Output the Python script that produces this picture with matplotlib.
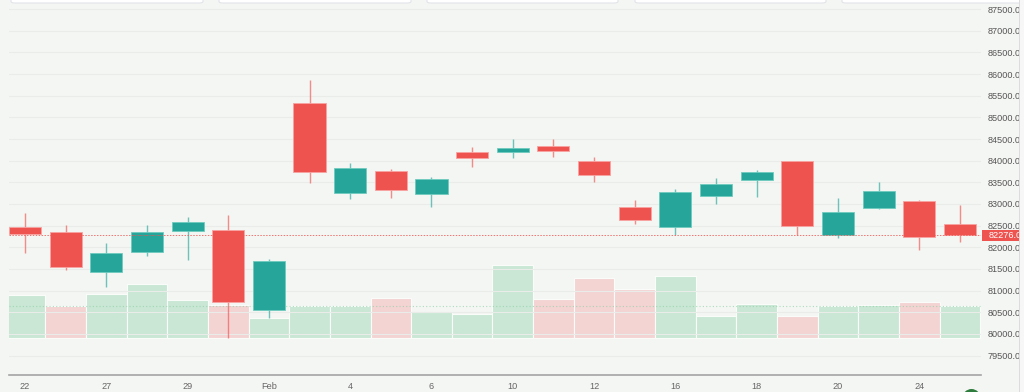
import numpy as np
import matplotlib
matplotlib.use("Agg")
import matplotlib.pyplot as plt
from matplotlib.patches import Rectangle, FancyBboxPatch, Circle
from matplotlib.transforms import blended_transform_factory

plt.rcParams['font.family'] = ['Liberation Sans', 'DejaVu Sans']

# daily candles
tick_labels = ['22', '27', '29', 'Feb', '4', '6', '10', '12', '16', '18', '20', '24']
opens = [82475, 82346, 81429, 81891, 82369, 82392, 80559, 85330, 83246, 83761, 83237, 84193,
         84200, 84346, 83992, 82923, 82475, 83191, 83554, 83985, 82277, 82907, 83062, 82538]
closes = [82300, 81545, 81868, 82353, 82577, 80730, 81676, 83731, 83824, 83315, 83584, 84062,
          84286, 84223, 83662, 82623, 83283, 83454, 83745, 82491, 82822, 83300, 82231, 82276.07]
highs = [82792, 82514, 82092, 82514, 82692, 82738, 81736, 85863, 83953, 83800, 83623, 84316,
         84493, 84493, 84078, 83092, 83346, 83600, 83777, 83985, 83138, 83500, 83092, 82969]
lows = [81875, 81475, 81090, 81806, 81713, 79910, 80374, 83491, 83115, 83145, 82930, 83854,
        84062, 84078, 83500, 82544, 82277, 82991, 83161, 82277, 82207, 82880, 81937, 82129]
volumes = [433, 323, 440, 546, 386, 336, 206, 326, 326, 406, 266, 246,
           736, 393, 600, 496, 623, 220, 346, 220, 326, 333, 360, 326]

BG = '#f4f6f3'
UP = '#26a69a'
DOWN = '#ef5350'
VOL_UP = '#c9e7d4'
VOL_DOWN = '#f4d3d3'

W, H = 1024, 392
fig = plt.figure(figsize=(W / 100, H / 100), dpi=100)
fig.patch.set_facecolor(BG)

# axes box in pixels: left 9, right 981, bottom 375 from top
left, right, bottom = 9, 981, 375
rect = [left / W, (H - bottom) / H, (right - left) / W, bottom / H]
ax_vol = fig.add_axes(rect)
ax_vol.set_facecolor(BG)
ax = ax_vol.twinx()
ax.patch.set_visible(False)

x = np.arange(len(opens))
o = np.array(opens, dtype=float)
c = np.array(closes, dtype=float)
hi = np.array(highs, dtype=float)
lo = np.array(lows, dtype=float)

# volume bars, coloured by close vs previous close
prev = np.concatenate([[c[0] - 1], c[:-1]])
vcols = [VOL_UP if c[i] >= prev[i] else VOL_DOWN for i in range(len(c))]
ax_vol.bar(x, volumes, width=1.0, color=vcols, edgecolor='#fafcfa', linewidth=0.8, zorder=2)
ax_vol.axhline(volumes[-1], color='#8fd1a8', lw=0.8, ls=(0, (1, 2)), alpha=0.7, zorder=3)
ax_vol.set_ylim(-367, 3383)
ax_vol.set_yticks([])
for s in ax_vol.spines.values():
    s.set_visible(False)

# candles
up = c >= o
ccols = np.where(up, UP, DOWN)
ax.vlines(x, lo, hi, colors=ccols, lw=1.0, alpha=0.65, zorder=3)
ax.bar(x, np.abs(c - o), bottom=np.minimum(o, c), width=0.79, color=ccols,
       edgecolor=[('#6fcbbf' if u else '#f7a3a1') for u in up], linewidth=0.6, zorder=4)

ax.set_ylim(79051, 87710)
ax.set_xlim(-0.394, 23.52)
yt = np.arange(79500, 87501, 500)
ax.set_yticks(yt)
ax.set_yticklabels([f'{v:.2f}' for v in yt])
ax.tick_params(axis='y', length=0, pad=4.5, labelsize=6.6, labelcolor='#555555')
ax.grid(axis='y', color='#e9ece9', lw=0.8, zorder=0)
ax.set_axisbelow(True)

ax_vol.set_xticks(x[::2])
ax_vol.set_xticklabels(tick_labels)
ax_vol.tick_params(axis='x', length=0, pad=5, labelsize=6.6, labelcolor='#666666')
for s in ax.spines.values():
    s.set_visible(False)
ax.spines['bottom'].set_visible(True)
ax.spines['bottom'].set_color('#a4a4a4')
ax.spines['bottom'].set_linewidth(1.2)

# last price line and label
last = c[-1]
ax.axhline(last, color=DOWN, lw=0.7, ls=(0, (1.5, 1.5)), alpha=0.8, zorder=5)
tr = blended_transform_factory(ax.transAxes, ax.transData)
ax.add_patch(Rectangle((1.001, last - 122), 0.06, 245, transform=tr, clip_on=False,
                       facecolor=DOWN, edgecolor='none', zorder=6))
ax.text(1.0082, last, f'{last:.2f}', transform=tr, ha='left', va='center',
        fontsize=6.6, color='white', clip_on=False, zorder=7)

# right edge of the price scale (labels get cut here)
fig.patches.append(Rectangle((1019 / W, 0), 5 / W, 1, transform=fig.transFigure,
                             facecolor='#f7f7f7', edgecolor='none', zorder=10))
fig.patches.append(Rectangle((1019 / W, 0), 1 / W, 1, transform=fig.transFigure,
                             facecolor='#dcdcdc', edgecolor='none', zorder=11))

# tab cards peeking in at the top
for x0, x1 in [(11, 203), (219, 411), (427, 618), (635, 826), (842, 1030)]:
    fig.patches.append(FancyBboxPatch((x0 / W, (H - 3) / H), (x1 - x0) / W, 20 / H,
                                      boxstyle='round,pad=0,rounding_size=0.004',
                                      transform=fig.transFigure, facecolor='white',
                                      edgecolor='#e1e4ea', lw=0.8, zorder=9))

# logo bubble at bottom right (inches, so it stays round)
fig.patches.append(Circle((9.715, -0.06), 0.09, transform=fig.dpi_scale_trans,
                          facecolor='#2e7d3f', edgecolor='none', zorder=9))

fig.savefig('out.png', dpi=100, facecolor=BG)
